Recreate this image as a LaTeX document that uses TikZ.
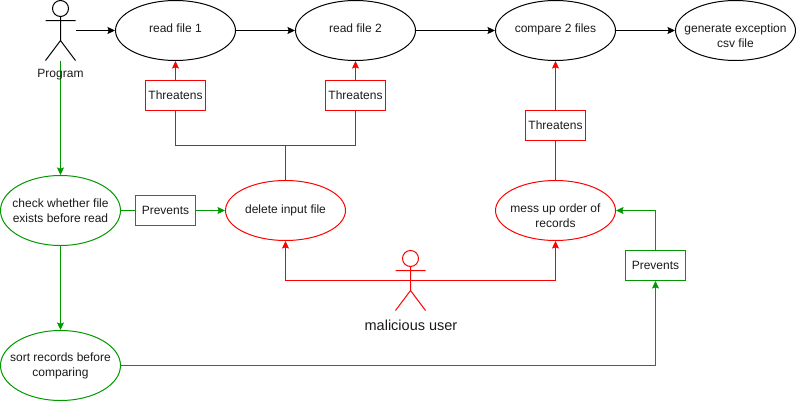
\documentclass[tikz,border=0pt]{standalone}
\usepackage{fontspec}
\setmainfont{Liberation Sans}
\usetikzlibrary{shapes.geometric,arrows.meta}
\definecolor{gr}{HTML}{009900}
\definecolor{rd}{HTML}{FF0000}
\definecolor{tx}{HTML}{1A1A1A}
\newcommand{\lowtext}[1]{\raisebox{-8.5pt}[20pt][20pt]{\parbox[c]{115pt}{\centering #1}}}
\newcommand{\hightext}[2]{\raisebox{#1}[20pt][20pt]{#2}}
\tikzset{
  base/.style={line width=1pt,font=\fontsize{12}{15}\selectfont,text=tx,align=center,inner sep=0pt},
  usecase/.style={base,draw,ellipse,inner xsep=-30pt,inner ysep=-8pt,minimum width=120pt,minimum height=60pt},
  usecasetall/.style={usecase,minimum height=70pt},
  tagbox/.style={base,draw,rectangle,minimum width=60pt,minimum height=30pt},
  actorbox/.style={inner sep=0pt,minimum width=30pt,minimum height=60pt},
  link/.style={line width=1pt,-{Stealth[length=7.5pt,width=7pt,inset=1.2pt]}},
  plain/.style={line width=1pt},
  figure/.style={line width=1pt},
  caption/.style={text=tx,inner sep=0pt}
}
\begin{document}
\begin{tikzpicture}[x=1pt,y=-1pt]
\useasboundingbox (-0.5,-0.5) rectangle (795.5,401.5);
% use cases
\node[usecase] (r1) at (175,30) {\hightext{-1.5pt}{read file 1}};
\node[usecase] (r2) at (355,30) {\hightext{-1.5pt}{read file 2}};
\node[usecase] (cmp) at (555,30) {\hightext{-1.5pt}{compare 2 files}};
\node[usecase] (gen) at (735,30) {\lowtext{generate exception\\csv file}};
\node[usecase,draw=rd] (del) at (285,210) {\hightext{-2.5pt}{delete input file}};
\node[usecase,draw=rd] (mess) at (555,210) {\lowtext{mess up order of\\records}};
\node[usecasetall,draw=gr] (chk) at (60,210) {check whether file\\exists before read};
\node[usecasetall,draw=gr] (srt) at (60,365) {sort records before\\comparing};
% tags
\node[tagbox,draw=rd] (t1) at (175,95) {Threatens};
\node[tagbox,draw=rd] (t2) at (355,95) {Threatens};
\node[tagbox,draw=rd] (t3) at (555,125) {Threatens};
\node[tagbox,draw=gr] (p1) at (165,210) {Prevents};
\node[tagbox,draw=gr] (p2) at (655,265) {Prevents};
% actors
\node[actorbox] (prog) at (60,30) {};
\node[actorbox] (mal) at (410,280) {};
\draw[figure] (60,8) circle (8pt) (60,16) -- (60,40) (45,20) -- (75,20) (45,60) -- (60,40) -- (75,60);
\draw[figure,rd] (410,258) circle (8pt) (410,266) -- (410,290) (395,270) -- (425,270) (395,310) -- (410,290) -- (425,310);
% black flow
\draw[link] (prog.east) -- (r1.west);
\draw[link] (r1.east) -- (r2.west);
\draw[link] (r2.east) -- (cmp.west);
\draw[link] (cmp.east) -- (gen.west);
% green
\draw[link,gr] (prog.south) -- (chk.north);
\draw[link,gr] (chk.south) -- (srt.north);
\draw[plain,gr] (chk.east) -- (p1.west);
\draw[link,gr] (p1.east) -- (del.west);
\draw[link,gr] (srt.east) -| (p2.south);
\draw[link,gr] (p2.north) |- (mess.east);
% red
\draw[link,rd] (t1.north) -- (r1.south);
\draw[link,rd] (t2.north) -- (r2.south);
\draw[link,rd] (t3.north) -- (cmp.south);
\draw[plain,rd] (del.north) -- (285,145);
\draw[plain,rd] (t1.south) |- (285,145) -| (t2.south);
\draw[plain,rd] (mess.north) -- (t3.south);
\draw[link,rd] (mal.center) -| (del.south);
\draw[link,rd] (mal.center) -| (mess.south);
% captions
\node[caption,font=\fontsize{12}{15}\selectfont] (progcap) at (60,74.5) {Program};
\node[caption,font=\fontsize{14.5}{17}\selectfont] (malcap) at (410.5,325) {malicious user};
\end{tikzpicture}
\end{document}
